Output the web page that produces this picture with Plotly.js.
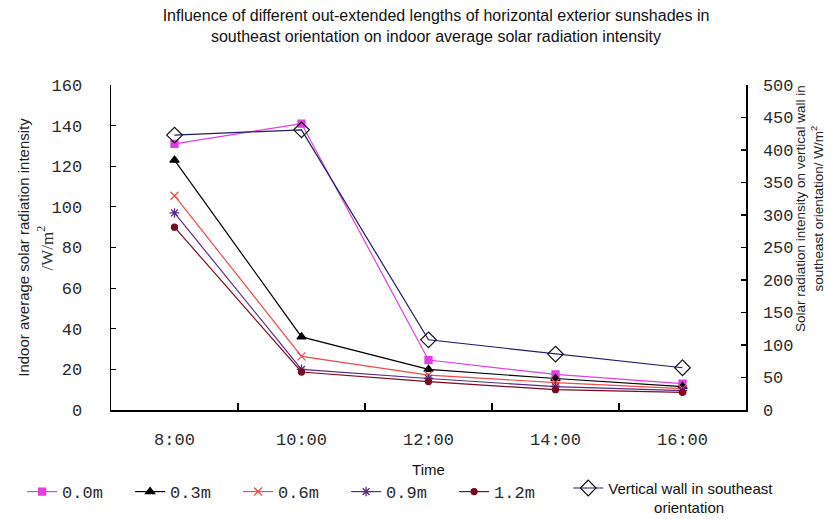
<!DOCTYPE html>
<html>
<head>
<meta charset="utf-8">
<script src="https://cdn.plot.ly/plotly-3.0.1.min.js"></script>
<style>html,body{margin:0;padding:0;background:#fff;}#chart{width:831px;height:519px;}</style>
</head>
<body>
<div id="chart"></div>
<script>
const times = ["8:00", "10:00", "12:00", "14:00", "16:00"];
const seriesNames = ["0.0m", "0.3m", "0.6m", "0.9m", "1.2m"];
const s00 = [131, 141, 24.6, 17.5, 13];
const s03 = [123, 36, 20, 15.5, 11.5];
const s06 = [105.5, 26.4, 17.2, 13.5, 10.5];
const s09 = [97, 20, 15.5, 11.5, 9.5];
const s12 = [90, 18.7, 14, 10, 8.7];
const wallName = ["Vertical wall in southeast", "orientation"];
const wall = [423, 431, 108, 86, 65];
const leftTicks = [0, 20, 40, 60, 80, 100, 120, 140, 160];
const rightTicks = [0, 50, 100, 150, 200, 250, 300, 350, 400, 450, 500];

const colors = ["#e23ee0", "#000000", "#f24a4a", "#5a2a82", "#7a0a22"];
const symbols = ["square", "triangle-up", "x-thin-open", "asterisk-open", "circle"];
const sizes = [7, 8, 8, 8, 6];
const dataSets = [s00, s03, s06, s09, s12];

const traces = dataSets.map((d, i) => ({
  x: times, y: d, name: seriesNames[i], type: "scatter", mode: "lines+markers",
  line: {color: colors[i], width: 1.2},
  marker: {symbol: symbols[i], size: sizes[i], color: colors[i], line: {color: colors[i], width: 1.3}},
  yaxis: "y", legend: "legend"
}));
const nb = "\u00A0";
traces.push({
  x: times, y: wall, type: "scatter", mode: "lines+markers",
  name: wallName[0] + "<br>" + nb.repeat(11) + wallName[1],
  line: {color: "#1c1c6a", width: 1.2},
  marker: {symbol: "diamond-open", size: 12, color: "#111", line: {color: "#111", width: 1.2}},
  yaxis: "y2", legend: "legend2"
});

const monoFont = {family: "Liberation Mono, DejaVu Sans Mono, monospace", size: 17, color: "#2a2a2a"};
const sansFont = {family: "Liberation Sans, Arial", size: 15, color: "#111"};

const layout = {
  width: 831, height: 519,
  margin: {l: 111, r: 85, t: 85, b: 109, autoexpand: false},
  paper_bgcolor: "#fff", plot_bgcolor: "#fff",
  title: {
    text: "Influence of different out-extended lengths of horizontal exterior sunshades in<br>southeast orientation on indoor average solar radiation intensity",
    font: {family: "Liberation Sans, Arial", size: 16, color: "#111"},
    x: 436 / 831, xanchor: "center", y: 0.96, yanchor: "top"
  },
  xaxis: {
    type: "category", range: [-0.5, 4.5], automargin: false,
    showline: true, linecolor: "#000", linewidth: 1.5,
    ticks: "inside", tickson: "boundaries", ticklen: 7, tickcolor: "#000", tickwidth: 1.2,
    showgrid: false, zeroline: false,
    tickfont: monoFont, ticklabelstandoff: 13,
    title: {text: "Time", font: sansFont, standoff: 15}
  },
  yaxis: {
    range: [0, 160], tickvals: leftTicks, automargin: false,
    showline: true, linecolor: "#000", linewidth: 1.5,
    ticks: "inside", ticklen: 5, tickcolor: "#000", tickwidth: 1.2,
    showgrid: false, zeroline: false,
    tickfont: monoFont, ticklabelstandoff: 24,
    title: {text: "Indoor average solar radiation intensity", font: {family: "Liberation Sans, Arial", size: 15, color: "#222"}, standoff: 18}
  },
  yaxis2: {
    range: [0, 500], tickvals: rightTicks, overlaying: "y", side: "right", automargin: false,
    showline: true, linecolor: "#000", linewidth: 1.5,
    ticks: "inside", ticklen: 5, tickcolor: "#000", tickwidth: 1.2,
    showgrid: false, zeroline: false,
    tickfont: monoFont, ticklabelstandoff: 12
  },
  showlegend: true,
  legend: {
    orientation: "h", x: -0.14, xanchor: "left", y: -0.197, yanchor: "top",
    font: monoFont, itemwidth: 30, entrywidth: 63, entrywidthmode: "pixels", tracegroupgap: 0,
    bgcolor: "rgba(0,0,0,0)"
  },
  legend2: {
    orientation: "h", x: 0.72, xanchor: "left", y: -0.19, yanchor: "top", valign: "top",
    font: {family: "Liberation Sans, Arial", size: 15, color: "#111"}, itemwidth: 30,
    bgcolor: "rgba(0,0,0,0)"
  },
  annotations: [
    {text: "/W/m<sup>2</sup>", xref: "paper", yref: "paper", x: -0.104, y: 0.5, xanchor: "center", yanchor: "middle", textangle: -90,
     showarrow: false, font: {family: "Liberation Serif, serif", size: 17, color: "#333"}},
    {text: "Solar radiation intensity on vertical wall in<br>southeast orientation/ W/m<sup>2</sup>",
     xref: "paper", yref: "paper", x: 1.1, y: 0.62, textangle: -90, xanchor: "center", yanchor: "middle",
     showarrow: false, font: {family: "Liberation Sans, Arial", size: 13.5, color: "#222"}}
  ]
};

Plotly.newPlot("chart", traces, layout, {displayModeBar: false, staticPlot: true});
</script>
</body>
</html>
